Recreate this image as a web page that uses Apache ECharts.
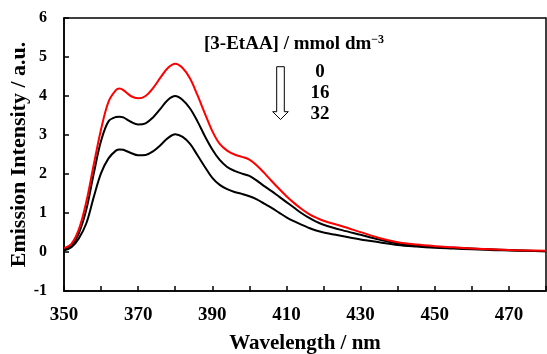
<!DOCTYPE html>
<html>
<head>
<meta charset="utf-8">
<script src="https://cdn.jsdelivr.net/npm/echarts@6/dist/echarts.min.js"></script>
<style>
  html, body { margin: 0; padding: 0; background: #fff; }
  #chart { width: 547px; height: 354px; }
</style>
</head>
<body>
<div id="chart"></div>
<script>
// Emission spectra of the probe at three 3-EtAA concentrations
const wavelengths = [350, 352, 354, 356, 358, 360, 362, 364, 365, 366, 368, 370, 372, 374, 376, 378, 380,
  382, 384, 386, 388, 390, 392, 394, 396, 398, 400, 402, 404, 406, 408, 410, 412, 414, 416, 418, 420,
  425, 430, 435, 440, 445, 450, 455, 460, 465, 470, 475, 480];

const conc0 = [0.10, 0.21, 0.58, 1.28, 2.23, 3.15, 3.85, 4.15, 4.19, 4.15, 4.00, 3.94, 4.00, 4.20, 4.47, 4.72, 4.83,
  4.72, 4.45, 4.02, 3.55, 3.10, 2.77, 2.60, 2.50, 2.44, 2.37, 2.22, 2.03, 1.82, 1.62, 1.43, 1.26, 1.11, 0.98, 0.88, 0.80,
  0.66, 0.51, 0.36, 0.25, 0.19, 0.15, 0.12, 0.09, 0.07, 0.05, 0.04, 0.03];

const conc16 = [0.06, 0.17, 0.48, 1.08, 2.00, 2.85, 3.35, 3.46, 3.47, 3.45, 3.34, 3.27, 3.30, 3.45, 3.67, 3.90, 4.00,
  3.90, 3.68, 3.35, 2.97, 2.63, 2.36, 2.18, 2.08, 2.01, 1.95, 1.83, 1.69, 1.56, 1.42, 1.28, 1.14, 1.00, 0.88, 0.78, 0.70,
  0.56, 0.44, 0.32, 0.22, 0.16, 0.13, 0.11, 0.09, 0.07, 0.05, 0.03, 0.02];

const conc32 = [0.04, 0.12, 0.35, 0.73, 1.40, 2.02, 2.40, 2.60, 2.63, 2.62, 2.54, 2.48, 2.49, 2.58, 2.74, 2.92, 3.02,
  2.95, 2.77, 2.48, 2.18, 1.90, 1.72, 1.61, 1.54, 1.49, 1.43, 1.35, 1.24, 1.13, 1.01, 0.89, 0.79, 0.70, 0.62, 0.55, 0.50,
  0.41, 0.32, 0.25, 0.18, 0.14, 0.11, 0.09, 0.07, 0.05, 0.04, 0.03, 0.02];

const concLabels = ['0', '16', '32'];
const seriesColors = ['#ff0000', '#000000', '#000000'];

const FONT = '"Liberation Serif", "Times New Roman", serif';

function pairs(vals) {
  return wavelengths.map((w, i) => [w, vals[i]]);
}

const chart = echarts.init(document.getElementById('chart'), null, { renderer: 'canvas' });

const lineSeries = [conc0, conc16, conc32].map((vals, i) => ({
  name: concLabels[i],
  type: 'line',
  data: pairs(vals),
  showSymbol: false,
  smooth: 0.35,
  lineStyle: { color: seriesColors[i], width: 2 },
  z: 3 - i
}));

chart.setOption({
  animation: false,
  backgroundColor: '#fff',
  grid: {
    left: 64, right: 1, top: 18, bottom: 63,
    outerBoundsMode: 'none',
    containLabel: false,
    show: true, borderColor: '#000', borderWidth: 1.5, backgroundColor: 'transparent'
  },
  xAxis: {
    type: 'value',
    min: 350, max: 480, interval: 10,
    name: 'Wavelength / nm',
    nameLocation: 'middle',
    nameMoveOverlap: false,
    nameGap: 42,
    nameTextStyle: { fontFamily: FONT, fontWeight: 'bold', fontSize: 21, color: '#000' },
    axisLine: { show: true, onZero: false, lineStyle: { color: '#000', width: 1.5 } },
    axisTick: { show: true, inside: true, length: 5, lineStyle: { color: '#000', width: 1.5 } },
    axisLabel: {
      margin: 15,
      fontFamily: FONT, fontWeight: 'bold', fontSize: 19, color: '#000',
      formatter: v => ((v - 350) % 20 === 0 && v < 480) ? String(v) : ''
    },
    splitLine: { show: false }
  },
  yAxis: {
    type: 'value',
    min: -1, max: 6, interval: 1,
    name: 'Emission Intensity / a.u.',
    nameLocation: 'middle',
    nameMoveOverlap: false,
    nameGap: 34,
    nameTextStyle: { fontFamily: FONT, fontWeight: 'bold', fontSize: 22, color: '#000' },
    axisLine: { show: true, onZero: false, lineStyle: { color: '#000', width: 1.5 } },
    axisTick: { show: true, inside: true, length: 5, lineStyle: { color: '#000', width: 1.5 } },
    axisLabel: {
      margin: 17,
      fontFamily: FONT, fontWeight: 'bold', fontSize: 16, color: '#000'
    },
    splitLine: { show: false }
  },
  series: lineSeries,
  graphic: [
    {
      type: 'text',
      left: 204, top: 34,
      style: {
        text: '{b|[3-EtAA] / mmol dm}{s|−3}',
        rich: {
          b: { fontFamily: FONT, fontWeight: 'bold', fontSize: 19, fill: '#000', verticalAlign: 'bottom' },
          s: { fontFamily: FONT, fontWeight: 'bold', fontSize: 12, fill: '#000', verticalAlign: 'top', padding: [0, 0, 8, 0] }
        }
      }
    },
    ...concLabels.map((t, i) => ({
      type: 'text',
      x: 320, y: 72 + i * 21,
      style: {
        text: t, fontFamily: FONT, fontWeight: 'bold', fontSize: 19, fill: '#000',
        align: 'center', verticalAlign: 'middle'
      }
    })),
    {
      type: 'polygon',
      shape: {
        points: [[276.7, 66.7], [284.3, 66.7], [284.3, 111.7], [288.3, 111.7], [280.5, 119.5],
                 [272.7, 111.7], [276.7, 111.7]]
      },
      style: { fill: '#fff', stroke: '#000', lineWidth: 1 }
    }
  ]
});
</script>
</body>
</html>
